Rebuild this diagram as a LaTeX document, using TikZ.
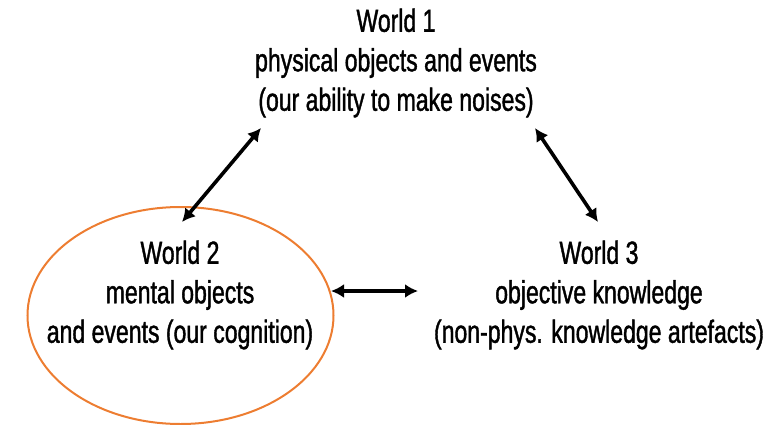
\documentclass[tikz,border=0pt]{standalone}
\usepackage{fontspec}
\setmainfont[FakeStretch=0.72,FakeBold=1.2]{Liberation Sans}
\usetikzlibrary{arrows.meta,shapes.geometric}
\definecolor{worldorange}{HTML}{ED7D31}
\tikzset{
  wtext/.style={align=center, inner sep=0pt, font=\fontsize{32}{39.5}\selectfont},
  warrow/.style={line width=3.6pt, {Latex[length=13pt,width=14pt]}-{Latex[length=13pt,width=14pt]}},
  wellipse/.style={ellipse, draw=worldorange, line width=2pt, minimum width=306pt, minimum height=217pt, inner sep=0pt}
}
\begin{document}
\begin{tikzpicture}[x=1pt,y=-1pt]
\useasboundingbox (0,0) rectangle (781,425);
\node[wellipse] (e2) at (180.5,315.5) {};
\node[wtext] (w1) at (396,63) {World 1\\physical objects and events\\(our ability to make noises)};
\node[wtext] (w2) at (180,295) {World 2\\mental objects\\and events (our cognition)};
\node[wtext] (w3) at (599,295) {World 3\\objective knowledge\\(non-phys. knowledge artefacts)};
\coordinate (a12s) at (182,222);
\coordinate (a12e) at (261,128);
\coordinate (a13s) at (535,128);
\coordinate (a13e) at (598,222);
\coordinate (a23s) at (331,291);
\coordinate (a23e) at (418,291);
\draw[warrow] (a12s) -- (a12e);
\draw[warrow] (a13s) -- (a13e);
\draw[warrow] (a23s) -- (a23e);
\end{tikzpicture}
\end{document}
